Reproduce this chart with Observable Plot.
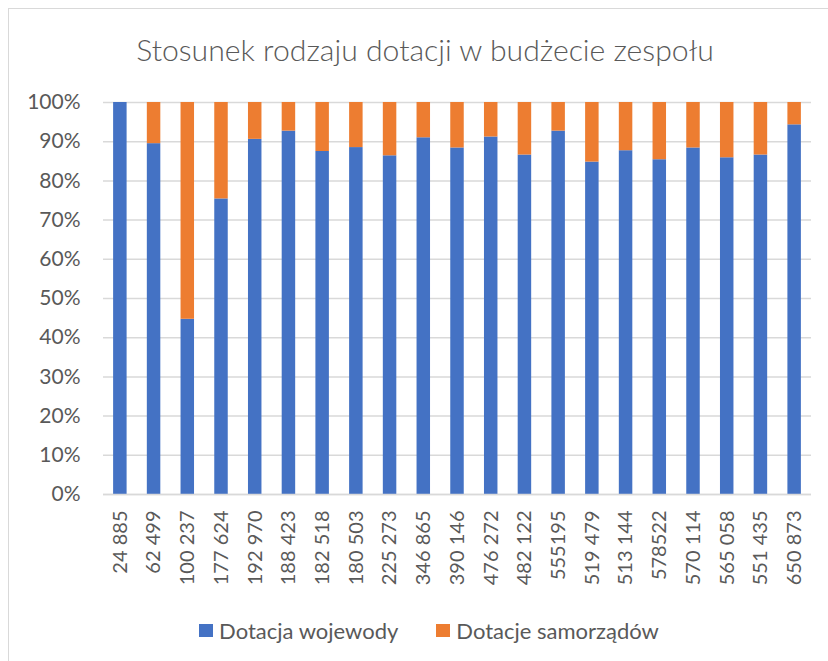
<!DOCTYPE html>
<html><head><meta charset="utf-8">
<script src="https://cdn.jsdelivr.net/npm/d3@7"></script>
<script src="https://cdn.jsdelivr.net/npm/@observablehq/plot@0.6"></script>
<style>
html,body{margin:0;background:#fff;font-family:Lato,"Open Sans",sans-serif;overflow:hidden;width:828px;height:661px;}
#frame{position:absolute;left:8px;top:8px;width:900px;height:700px;border:1.5px solid #d9d9d9;box-sizing:border-box;}
#title{position:absolute;left:0;top:31px;width:828px;box-sizing:border-box;padding-left:22px;text-align:center;font-size:30.2px;line-height:36px;color:#595959;font-weight:300;}
#chart{position:absolute;left:0;top:88px;}
#legend{position:absolute;left:0;top:615px;width:828px;box-sizing:border-box;text-align:center;font-size:22px;line-height:28px;color:#595959;padding-left:30px;}
#legend span.item{display:inline-flex;align-items:center;margin:0 19px;}
#legend span.sw{display:inline-block;width:14px;height:13px;margin-right:6px;}
</style></head>
<body>
<div id="frame"></div>
<div id="title">Stosunek rodzaju dotacji w budżecie zespołu</div>
<div id="chart"></div>
<div id="legend"></div>
<script>
const categories = ["24 885","62 499","100 237","177 624","192 970","188 423","182 518","180 503","225 273","346 865","390 146","476 272","482 122","555195","519 479","513 144","578522","570 114","565 058","551 435","650 873"];
const dotacjaWojewody = [100, 89.5, 44.7, 75.4, 90.6, 92.7, 87.5, 88.5, 86.4, 91.0, 88.4, 91.2, 86.6, 92.7, 84.8, 87.7, 85.4, 88.4, 85.9, 86.6, 94.3];
const dotacjeSamorzadow = [0, 10.5, 55.3, 24.6, 9.4, 7.3, 12.5, 11.5, 13.6, 9.0, 11.6, 8.8, 13.4, 7.3, 15.2, 12.3, 14.6, 11.6, 14.1, 13.4, 5.7];
const seriesNames = ["Dotacja wojewody", "Dotacje samorządów"];
const seriesColors = ["#4472C4", "#ED7D31"];
const yTicks = [0,0.1,0.2,0.3,0.4,0.5,0.6,0.7,0.8,0.9,1];

const data = [];
categories.forEach((c,i)=>{
  data.push({cat:c, series:seriesNames[0], v:dotacjaWojewody[i]/100});
  data.push({cat:c, series:seriesNames[1], v:dotacjeSamorzadow[i]/100});
});

const chart = Plot.plot({
  width: 828,
  height: 520,
  marginTop: 14,
  marginBottom: 114,
  marginLeft: 103,
  marginRight: 17,
  style: {fontFamily: "Lato, 'Open Sans', sans-serif", fontSize: "20px", color: "#595959", background: "transparent"},
  x: {domain: categories, paddingInner: 0.6, paddingOuter: 0.3, round: false, label: null, tickSize: 0, tickPadding: 16, tickRotate: -90},
  y: {domain: [0,1], ticks: yTicks, tickFormat: d3.format(".0%"), label: null, tickSize: 0, tickPadding: 23},
  color: {domain: seriesNames, range: seriesColors},
  marks: [
    Plot.gridY(yTicks, {stroke: "#d9d9d9", strokeOpacity: 1, strokeWidth: 1.5}),
    Plot.barY(data, {x: "cat", y: "v", fill: "series", order: seriesNames}),
    Plot.ruleY([0], {stroke: "#d9d9d9", strokeWidth: 1.5})
  ]
});
chart.querySelectorAll("g[aria-label='y-axis tick label'] text").forEach(t=>t.style.fontSize="21px");
document.getElementById("chart").appendChild(chart);

const legend = document.getElementById("legend");
seriesNames.forEach((n,i)=>{
  const item = document.createElement("span"); item.className="item";
  const sw = document.createElement("span"); sw.className="sw"; sw.style.background=seriesColors[i];
  item.appendChild(sw); item.appendChild(document.createTextNode(n));
  legend.appendChild(item);
});
</script>
</body></html>
